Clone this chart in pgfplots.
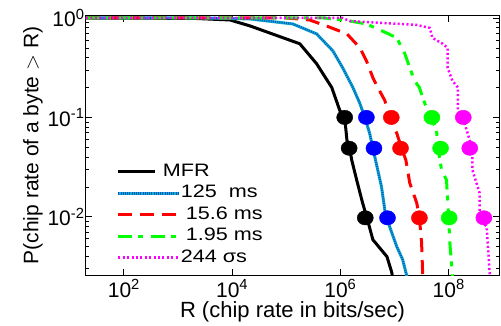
\documentclass[border=0pt]{standalone}
\usepackage{fontspec}
\setmainfont{Liberation Sans}
\newfontfamily\legfont[FakeStretch=1.2]{Liberation Sans}
\usepackage{pgfplots}
\pgfplotsset{compat=1.18}
\definecolor{cyanA}{RGB}{20,175,205}
\definecolor{blueB}{RGB}{0,85,200}
\definecolor{mag}{RGB}{255,0,255}
\definecolor{grn}{RGB}{0,255,0}
\definecolor{rd}{RGB}{255,0,0}
\definecolor{bl}{RGB}{0,0,255}
\pgfplotsset{shortleg/.style={legend image code/.code={\draw[##1] (0pt,0pt) -- (37pt,0pt);}},
  leg125/.style={legend image code/.code={\draw[cyanA, line width=3pt] (0pt,0pt) -- (60pt,0pt);
     \draw[blueB, line width=3pt, dash pattern=on 1pt off 1.2pt] (0pt,0pt) -- (60pt,0pt);}}}
\begin{document}
\begin{tikzpicture}
\begin{axis}[
  name=ax,
  scale only axis,
  width=413pt, height=259pt,
  xmode=log, ymode=log,
  xmin=20, xmax=8.5e8,
  ymin=0.0026, ymax=1.047,
  xtick={1e2,1e4,1e6,1e8},
  xticklabels={10\textsuperscript{2},10\textsuperscript{4},10\textsuperscript{6},10\textsuperscript{8}},
  xminorticks=false,
  ytick={1e-2,1e-1,1},
  yticklabels={10\textsuperscript{-2},10\textsuperscript{-1},10\textsuperscript{0}},
  minor ytick={0.003,0.004,0.005,0.006,0.007,0.008,0.009,0.02,0.03,0.04,0.05,0.06,0.07,0.08,0.09,0.2,0.3,0.4,0.5,0.6,0.7,0.8,0.9},
  tick align=inside,
  major tick length=6pt, minor tick length=3pt,
  tick style={black, line width=0.8pt},
  axis line style={black, line width=1pt},
  tick label style={font=\fontsize{21}{21}\selectfont},
  xlabel style={font=\fontsize{22}{22}\selectfont, yshift=3pt},
  ylabel style={font=\fontsize{21}{21}\selectfont, yshift=-2pt},
  xlabel={R (chip rate in bits/sec)},
  ylabel={P(chip rate of a byte $>$ R)},
  xticklabel style={yshift=-1pt},
  yticklabel style={xshift=2pt},
  legend cell align=left,
  legend style={draw=none, fill=none, at={(axis description cs:0.067,0.022)}, anchor=south west,
    font=\legfont\fontsize{18}{18}\selectfont,
    nodes={inner sep=1pt, text height=13pt, text depth=4pt}, row sep=2.5pt},
  legend image code/.code={\draw[#1] (0pt,0pt) -- (60pt,0pt);},
]
\addplot[black, line width=3pt, shortleg] coordinates {
(20,1) (2000,0.99) (9.1e3,0.955) (2.14e4,0.832) (1.78e5,0.550) (3.63e5,0.347) (6.92e5,0.200) (9.77e5,0.117) (1.2e6,0.1) (1.32e6,0.0589) (1.48e6,0.049) (1.62e6,0.0372) (2.0e6,0.0234) (2.57e6,0.0138) (3.09e6,0.00977) (3.98e6,0.00589) (7.24e6,0.00398) (8.91e6,0.00275) (9.5e6,0.0022)
};
\addlegendentry{\hspace*{-18pt}MFR}
\addplot[cyanA, line width=3pt, leg125] coordinates {
(20,1) (2.5e3,1) (9.1e3,0.99) (2.14e4,0.977) (1.32e5,0.871) (3.63e5,0.692) (7.24e5,0.468) (1.10e6,0.316) (1.70e6,0.2) (2.29e6,0.138) (2.82e6,0.1) (3.47e6,0.0692) (3.98e6,0.049) (4.9e6,0.0295) (5.75e6,0.02) (6.61e6,0.0117) (7.24e6,0.00977) (8.13e6,0.00794) (1.10e7,0.00501) (1.41e7,0.00372) (1.66e7,0.00263) (1.8e7,0.0022)
};
\addlegendentry{125\ \ ms}
\addplot[blueB, line width=2pt, dash pattern=on 1pt off 1.2pt, forget plot] coordinates {
(20,1) (2.5e3,1) (9.1e3,0.99) (2.14e4,0.977) (1.32e5,0.871) (3.63e5,0.692) (7.24e5,0.468) (1.10e6,0.316) (1.70e6,0.2) (2.29e6,0.138) (2.82e6,0.1) (3.47e6,0.0692) (3.98e6,0.049) (4.9e6,0.0295) (5.75e6,0.02) (6.61e6,0.0117) (7.24e6,0.00977) (8.13e6,0.00794) (1.10e7,0.00501) (1.41e7,0.00372) (1.66e7,0.00263) (1.8e7,0.0022)
};
\addplot[rd, line width=3pt, dash pattern=on 14pt off 8pt] coordinates {
(20,1) (1e5,1) (2.69e5,0.955) (5.5e5,0.832) (1.32e6,0.692) (2.29e6,0.501) (3.02e6,0.372) (3.98e6,0.251) (4.9e6,0.2) (6.61e6,0.148) (8.13e6,0.1) (1.10e7,0.0692) (1.35e7,0.049) (1.62e7,0.0372) (1.91e7,0.0219) (2.57e7,0.0138) (2.88e7,0.00977) (3.16e7,0.0055) (3.31e7,0.00263) (3.35e7,0.0022)
};
\addlegendentry{\hspace*{5pt}15.6 ms}
\addplot[grn, line width=3pt, dash pattern=on 14pt off 6pt on 5pt off 8pt] coordinates {
(20,1) (5e5,1) (1.48e6,0.933) (3.02e6,0.871) (7.08e6,0.708) (1.10e7,0.631) (1.55e7,0.437) (1.91e7,0.316) (2.34e7,0.234) (2.88e7,0.2) (3.31e7,0.158) (4.07e7,0.117) (4.9e7,0.1) (6.03e7,0.0692) (6.31e7,0.049) (7.41e7,0.0295) (9.12e7,0.0234) (1.0e8,0.00977) (1.05e8,0.0055) (1.17e8,0.00263) (1.2e8,0.0022)
};
\addlegendentry{\hspace*{5pt}1.95 ms}
\addplot[mag, line width=2.5pt, dash pattern=on 2pt off 2.4pt] coordinates {
(20,1) (1.1e6,1) (1.48e6,0.933) (6.03e6,0.891) (2.57e7,0.851) (4.47e7,0.794) (5.01e7,0.631) (7.76e7,0.55) (9.55e7,0.501) (9.55e7,0.316) (1.17e8,0.234) (1.48e8,0.2) (1.48e8,0.117) (1.82e8,0.1) (2.45e8,0.0589) (2.75e8,0.049) (2.75e8,0.0295) (3.72e8,0.0174) (3.72e8,0.00977) (5.01e8,0.00794) (5.25e8,0.0055) (5.75e8,0.00263) (5.9e8,0.0022)
};
\addlegendentry{244 σs}
\addplot[only marks, mark=*, mark size=7.2pt, mark options={xscale=1.12, black, fill=black}, forget plot] coordinates {(1.2e6,0.1) (1.45e6,0.049) (2.88e6,0.00977)};
\addplot[only marks, mark=*, mark size=7.2pt, mark options={xscale=1.12, bl, fill=bl}, forget plot] coordinates {(3.02e6,0.1) (4.17e6,0.049) (7.41e6,0.00977)};
\addplot[only marks, mark=*, mark size=7.2pt, mark options={xscale=1.12, rd, fill=rd}, forget plot] coordinates {(8.71e6,0.1) (1.29e7,0.049) (2.88e7,0.00977)};
\addplot[only marks, mark=*, mark size=7.2pt, mark options={xscale=1.12, grn, fill=grn}, forget plot] coordinates {(4.9e7,0.1) (7.08e7,0.049) (1.02e8,0.00977)};
\addplot[only marks, mark=*, mark size=7.2pt, mark options={xscale=1.12, mag, fill=mag}, forget plot] coordinates {(1.86e8,0.1) (2.45e8,0.049) (4.47e8,0.00977)};
\end{axis}
\pgfresetboundingbox
\path[use as bounding box] (ax.south west) ++(-86pt,-51pt) rectangle ++(501pt,326pt);
\end{tikzpicture}
\end{document}
